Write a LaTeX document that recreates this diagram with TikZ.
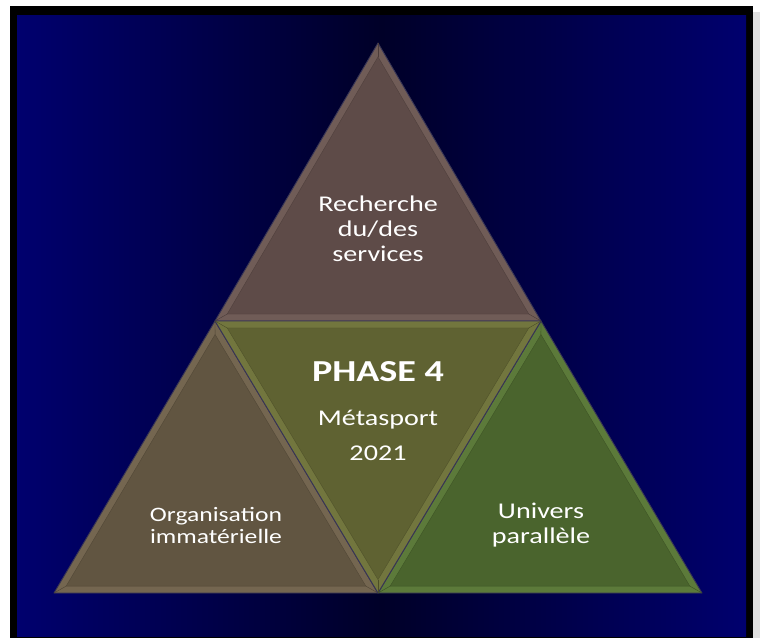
\documentclass[tikz,border=0pt]{standalone}
\usepackage{fontspec}
\newfontfamily\calib[FakeStretch=1.25]{Carlito}
\usetikzlibrary{calc}
\definecolor{navy}{RGB}{0,0,110}
\definecolor{navydark}{RGB}{0,0,40}
\definecolor{topbase}{RGB}{94,75,72}
\definecolor{toplight}{RGB}{112,92,87}
\definecolor{midbase}{RGB}{95,98,50}
\definecolor{midlight}{RGB}{114,118,62}
\definecolor{leftbase}{RGB}{97,85,65}
\definecolor{leftlight}{RGB}{116,102,80}
\definecolor{rightbase}{RGB}{74,100,45}
\definecolor{rightlight}{RGB}{92,122,58}
\definecolor{edgeline}{RGB}{55,52,85}
\newcommand\bevtri[6]{%
  \fill[#5, draw=edgeline, line width=0.9pt, line join=round] (#1)--(#2)--(#3)--cycle;
  \fill[#6] ($(#4)!0.925!(#1)$)--($(#4)!0.925!(#2)$)--($(#4)!0.925!(#3)$)--cycle;
  \draw[#6!85!black, line width=0.4pt] ($(#4)!0.925!(#1)$)--($(#4)!0.925!(#2)$)--($(#4)!0.925!(#3)$)--cycle;
  \foreach \vv in {#1,#2,#3} \draw[#6!80!black, line width=0.4pt] (\vv) -- ($(#4)!0.925!(\vv)$);
}
\begin{document}
\begin{tikzpicture}[x=1pt,y=-1pt,
  lbl/.style={text=white, inner sep=0pt, anchor=base, font=\calib\fontsize{22.5}{26}\selectfont},
  lbls/.style={text=white, inner sep=0pt, anchor=base, font=\calib\fontsize{20.5}{22}\selectfont},
  lblb/.style={text=white, inner sep=0pt, anchor=base, font=\calib\bfseries\fontsize{30.5}{34}\selectfont}]
\useasboundingbox (0,0) rectangle (763,638);
\fill[white] (0,0) rectangle (763,638);
\fill[black!12] (753,12) rectangle (760,638);
\fill[black] (10,6) rectangle (753,638);
\shade[left color=navy, right color=navy, middle color=navydark] (17,15) rectangle (746,636);
% vertices
\coordinate (A) at (378,43);
\coordinate (L) at (215,321);
\coordinate (R) at (541,321);
\coordinate (BL) at (54,593);
\coordinate (BM) at (378,593);
\coordinate (BR) at (702,593);
% incentres
\coordinate (It) at (378,228);
\coordinate (Im) at (378,414);
\coordinate (Il) at (216,501);
\coordinate (Ir) at (540,501);
\bevtri{A}{L}{R}{It}{toplight}{topbase}
\bevtri{L}{BL}{BM}{Il}{leftlight}{leftbase}
\bevtri{R}{BM}{BR}{Ir}{rightlight}{rightbase}
\bevtri{L}{R}{BM}{Im}{midlight}{midbase}
% texts
\node[lbl] (t1) at (378,211.5) {Recherche};
\node[lbl] (t2) at (378,236.5) {du/des};
\node[lbl] (t3) at (378,261.5) {services};
\node[lblb] (phase) at (378,381) {PHASE 4};
\node[lbl] (meta) at (378,425) {Métasport};
\node[lbl] (year) at (378,460) {2021};
\node[lbls] (l1) at (216,521.5) {Organisation};
\node[lbls] (l2) at (216,543) {immatérielle};
\node[lbl] (r1) at (541,518) {Univers};
\node[lbl] (r2) at (541,543) {parallèle};
\end{tikzpicture}
\end{document}
